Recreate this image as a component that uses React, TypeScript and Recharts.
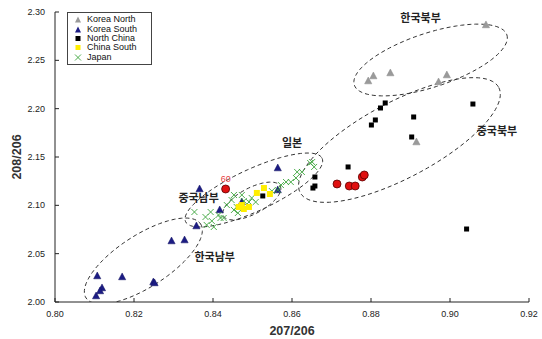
import React from 'react';
import { ScatterChart, Scatter, XAxis, YAxis, Legend, ReferenceDot, Label } from 'recharts';

const FONT = '"Liberation Sans", Arial, Helvetica, sans-serif';
const KFONT = '"Noto Sans CJK KR", "Noto Sans", sans-serif';

const xTicks = [0.8, 0.82, 0.84, 0.86, 0.88, 0.9, 0.92];
const yTicks = [2.0, 2.05, 2.1, 2.15, 2.2, 2.25, 2.3];

const koreaNorth: number[][] = [
  [0.8793, 2.2286], [0.8806, 2.2338], [0.8849, 2.2369], [0.8971, 2.2276],
  [0.8992, 2.2348], [0.9091, 2.2866], [0.8915, 2.1655],
];
const koreaSouth: number[][] = [
  [0.8366, 2.1169], [0.8417, 2.0952], [0.8473, 2.1034], [0.8564, 2.1386],
  [0.8564, 2.1159], [0.8358, 2.0786], [0.8295, 2.0631], [0.8328, 2.0641],
  [0.8107, 2.0269], [0.817, 2.0259], [0.8249, 2.0207], [0.8252, 2.0197],
  [0.8119, 2.0145], [0.8114, 2.0114], [0.8104, 2.0062],
];
const northChina: number[][] = [
  [0.8836, 2.2059], [0.8824, 2.2007], [0.8811, 2.1883], [0.8801, 2.1831],
  [0.8908, 2.1914], [0.9058, 2.2048], [0.8903, 2.1707], [0.8742, 2.1397],
  [0.8658, 2.1293], [0.8658, 2.12], [0.8653, 2.1179], [0.9042, 2.0755],
  [0.8526, 2.1097],
];
const chinaSouth: number[][] = [
  [0.8529, 2.1179], [0.8511, 2.1128], [0.8544, 2.1117], [0.8473, 2.1003],
  [0.8478, 2.0962], [0.8491, 2.0983], [0.8465, 2.0983],
];
const japan: number[][] = [
  [0.8353, 2.0931], [0.8381, 2.0879], [0.8394, 2.0931], [0.8397, 2.0838],
  [0.8384, 2.0797], [0.8402, 2.0776], [0.8414, 2.09], [0.8419, 2.0869],
  [0.8427, 2.0869], [0.8435, 2.1003], [0.8447, 2.1055], [0.8453, 2.0952],
  [0.8453, 2.1107], [0.846, 2.0983], [0.8463, 2.0921], [0.8473, 2.1107],
  [0.8478, 2.1045], [0.8491, 2.1034], [0.8498, 2.1076], [0.8508, 2.1034],
  [0.8549, 2.1148], [0.8564, 2.1159], [0.8572, 2.121], [0.8585, 2.1241],
  [0.8597, 2.1241], [0.861, 2.1283], [0.8613, 2.1345], [0.8625, 2.1345],
  [0.8646, 2.1438], [0.8651, 2.1448], [0.8656, 2.1397],
];
const sample60: number[][] = [
  [0.8432, 2.1169], [0.8714, 2.1221], [0.8745, 2.12], [0.876, 2.12],
  [0.8778, 2.1293], [0.8783, 2.1314],
];

// region outlines: centre and two conjugate semi-axis vectors, in data units
const regionEllipses = [
  { cx: 0.89509, cy: 2.25034, ax: 0.01931, ay: 0.025987, bx: 0.002156, by: -0.026516 },
  { cx: 0.8872, cy: 2.16758, ax: 0.025142, ay: 0.054395, bx: 0.004536, by: -0.034708 },
  { cx: 0.85034, cy: 2.11586, ax: 0.017281, ay: 0.032793, bx: 0.002256, by: -0.01969 },
  { cx: 0.84983, cy: 2.10448, ax: 0.007183, ay: 0.015541, bx: 0.001551, by: -0.011872 },
  { cx: 0.82237, cy: 2.04241, ax: 0.0145, ay: 0.038308, bx: 0.0036, by: -0.022562 },
];

const regionLabels = [
  { x: 0.89254, y: 2.2938, text: '한국북부' },
  { x: 0.91187, y: 2.1769, text: '중국북부' },
  { x: 0.86, y: 2.1645, text: '일본' },
  { x: 0.83636, y: 2.1076, text: '중국남부' },
  { x: 0.84042, y: 2.0465, text: '한국남부' },
];
const sampleLabel = { x: 0.84322, y: 2.1272, text: '60' };

const toPts = (arr: number[][]) => arr.map(([x, y]) => ({ x, y }));

const ellipsePts = (e: any) => {
  const pts: { x: number; y: number }[] = [];
  const n = 90;
  for (let i = 0; i <= n; i++) {
    const t = (i / n) * 2 * Math.PI;
    pts.push({
      x: e.cx + e.ax * Math.cos(t) + e.bx * Math.sin(t),
      y: e.cy + e.ay * Math.cos(t) + e.by * Math.sin(t),
    });
  }
  return pts;
};

const Tri = (fill: string, stroke: string) => (p: any) => {
  const { cx, cy } = p;
  if (cx == null || cy == null) return <g />;
  return (
    <polygon
      points={`${cx},${cy - 4} ${cx - 3.6},${cy + 2.8} ${cx + 3.6},${cy + 2.8}`}
      fill={fill}
      stroke={stroke}
      strokeWidth={0.5}
    />
  );
};
const Sq = (fill: string, size: number) => (p: any) => {
  const { cx, cy } = p;
  if (cx == null || cy == null) return <g />;
  return <rect x={cx - size / 2} y={cy - size / 2} width={size} height={size} fill={fill} />;
};
const Cross = (p: any) => {
  const { cx, cy } = p;
  if (cx == null || cy == null) return <g />;
  const r = 3;
  return (
    <g stroke="#3aa43a" strokeWidth={0.9}>
      <line x1={cx - r} y1={cy - r} x2={cx + r} y2={cy + r} />
      <line x1={cx - r} y1={cy + r} x2={cx + r} y2={cy - r} />
    </g>
  );
};
const RedDot = (p: any) => {
  const { cx, cy } = p;
  if (cx == null || cy == null) return <g />;
  return <circle cx={cx} cy={cy} r={4} fill="#e01010" stroke="#5a0000" strokeWidth={0.8} />;
};
const NoShape = () => <g />;

const XTick = (props: any) => {
  const { x, y, payload } = props;
  return (
    <g>
      <line x1={x} y1={y} x2={x} y2={y - 4} stroke="#222" strokeWidth={1} />
      <text x={x} y={y + 15} textAnchor="middle" fontSize={9} fontFamily={FONT} fill="#222">
        {Number(payload.value).toFixed(2)}
      </text>
    </g>
  );
};
const YTick = (props: any) => {
  const { x, y, payload } = props;
  return (
    <g>
      <line x1={x} y1={y} x2={x + 4} y2={y} stroke="#222" strokeWidth={1} />
      <text x={x - 10} y={y + 3} textAnchor="end" fontSize={9} fontFamily={FONT} fill="#222">
        {Number(payload.value).toFixed(2)}
      </text>
    </g>
  );
};

const legendItems = [
  { name: 'Korea North', kind: 'tri', color: '#9a9a9a' },
  { name: 'Korea South', kind: 'tri', color: '#1c1c84' },
  { name: 'North China', kind: 'sq', color: '#000000' },
  { name: 'China South', kind: 'sq', color: '#ffee00' },
  { name: 'Japan', kind: 'x', color: '#3aa43a' },
];

const LegendIcon = ({ kind, color }: { kind: string; color: string }) => (
  <svg width={10} height={9} style={{ display: 'block' }}>
    {kind === 'tri' && <polygon points="5,1.5 2,7.5 8,7.5" fill={color} />}
    {kind === 'sq' && <rect x={2.5} y={2} width={5} height={5} fill={color} />}
    {kind === 'x' && (
      <g stroke={color} strokeWidth={0.9}>
        <line x1={2} y1={1.5} x2={8} y2={7.5} />
        <line x1={2} y1={7.5} x2={8} y2={1.5} />
      </g>
    )}
  </svg>
);

const LegendBox = () => (
  <div
    style={{
      border: '1px solid #444',
      background: '#fff',
      padding: '2px 8px 2px 5px',
      fontFamily: FONT,
      fontSize: 9,
      color: '#111',
      width: 70,
    }}
  >
    {legendItems.map((it) => (
      <div key={it.name} style={{ display: 'flex', alignItems: 'center', height: 9.4 }}>
        <LegendIcon kind={it.kind} color={it.color} />
        <span style={{ marginLeft: 4, lineHeight: '9px' }}>{it.name}</span>
      </div>
    ))}
  </div>
);

export default function App() {
  return (
    <div style={{ position: 'absolute', left: 0, top: 0, width: 542, height: 339, background: '#fff' }}>
      <ScatterChart width={542} height={339} margin={{ top: 12, right: 13, bottom: 0, left: 10 }}>
        <XAxis
          type="number"
          dataKey="x"
          domain={[0.8, 0.92]}
          ticks={xTicks}
          allowDataOverflow
          height={37}
          tickSize={0}
          tickMargin={0}
          tickLine={false}
          tick={<XTick />}
          axisLine={{ stroke: '#222', strokeWidth: 1 }}
          interval={0}
        >
          <Label
            value="207/206"
            position="insideBottom"
            offset={4}
            style={{ fontFamily: FONT, fontSize: 12.5, fontWeight: 'bold', fill: '#333' }}
          />
        </XAxis>
        <YAxis
          type="number"
          dataKey="y"
          domain={[2.0, 2.3]}
          ticks={yTicks}
          allowDataOverflow
          width={45}
          tickSize={0}
          tickMargin={0}
          tickLine={false}
          tick={<YTick />}
          axisLine={{ stroke: '#222', strokeWidth: 1 }}
          interval={0}
        >
          <Label
            content={(props: any) => {
              const vb = props.viewBox || { x: 10, y: 12, width: 45, height: 290 };
              const cx = vb.x + 7;
              const cy = vb.y + vb.height / 2;
              return (
                <text
                  x={cx}
                  y={cy}
                  transform={`rotate(-90 ${cx} ${cy})`}
                  textAnchor="middle"
                  dominantBaseline="central"
                  fontFamily={FONT}
                  fontSize={12.5}
                  fontWeight="bold"
                  fill="#333"
                >
                  208/206
                </text>
              );
            }}
          />
        </YAxis>
        <Legend
          layout="vertical"
          align="center"
          verticalAlign="middle"
          wrapperStyle={{ left: 67, top: 12, width: 86 }}
          content={() => <LegendBox />}
        />
        {regionEllipses.map((e, i) => (
          <Scatter
            key={'e' + i}
            data={ellipsePts(e)}
            line={{ stroke: '#333', strokeWidth: 1, strokeDasharray: '4 3' }}
            lineType="joint"
            shape={NoShape}
            legendType="none"
            isAnimationActive={false}
          />
        ))}
        <Scatter name="Korea North" data={toPts(koreaNorth)} shape={Tri('#9a9a9a', '#8a8a8a')} isAnimationActive={false} />
        <Scatter name="Korea South" data={toPts(koreaSouth)} shape={Tri('#1c1c84', '#101060')} isAnimationActive={false} />
        <Scatter name="Japan" data={toPts(japan)} shape={Cross} isAnimationActive={false} />
        <Scatter name="North China" data={toPts(northChina)} shape={Sq('#000000', 5)} isAnimationActive={false} />
        <Scatter name="China South" data={toPts(chinaSouth)} shape={Sq('#ffee00', 6)} isAnimationActive={false} />
        <Scatter name="60" data={toPts(sample60)} shape={RedDot} legendType="none" isAnimationActive={false} />
        {regionLabels.map((l) => (
          <ReferenceDot
            key={l.text}
            x={l.x}
            y={l.y}
            r={0}
            fill="none"
            stroke="none"
            ifOverflow="visible"
            label={{
              value: l.text,
              position: 'center',
              fill: '#222',
              fontSize: 11,
              fontWeight: 'bold',
              fontFamily: KFONT,
            }}
          />
        ))}
        <ReferenceDot
          x={sampleLabel.x}
          y={sampleLabel.y}
          r={0}
          fill="none"
          stroke="none"
          ifOverflow="visible"
          label={{ value: sampleLabel.text, position: 'center', fill: '#e84040', fontSize: 9, fontFamily: FONT }}
        />
      </ScatterChart>
    </div>
  );
}
